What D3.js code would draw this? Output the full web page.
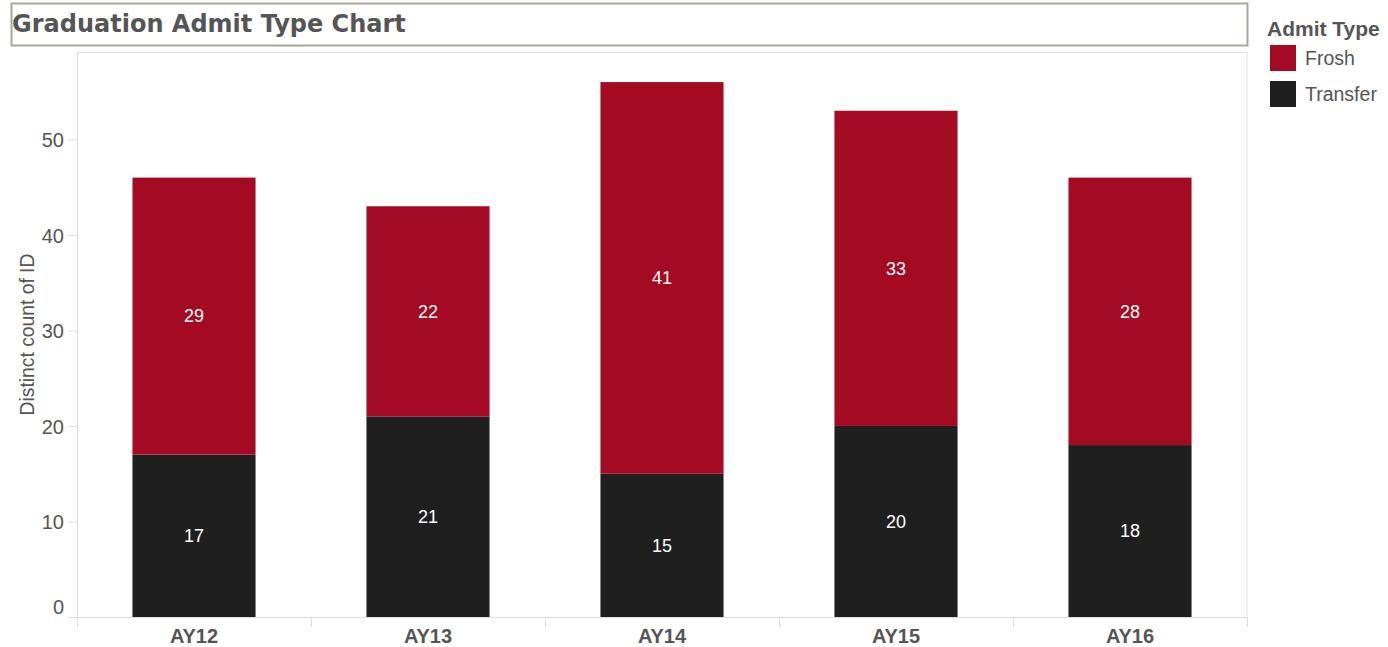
<!DOCTYPE html>
<html>
<head>
<meta charset="utf-8">
<script src="https://cdn.jsdelivr.net/npm/d3@7"></script>
<style>
  body { margin: 0; background: #fff; }
  .axis text { font-family: "Liberation Sans", Arial, sans-serif; fill: #555; }
</style>
</head>
<body>
<div class="chart"></div>
<script>
var years = ["AY12", "AY13", "AY14", "AY15", "AY16"];
var transfer = [17, 21, 15, 20, 18];
var frosh = [29, 22, 41, 33, 28];
var yTicks = [0, 10, 20, 30, 40, 50];
var admitTypes = ["Frosh", "Transfer"];
var colors = ["#a50a23", "#1f1f1f"];

var svgWidth = 1388;
var svgHeight = 647;
var margin = { top: 52, right: 141, bottom: 30, left: 77 };
var width = svgWidth - margin.left - margin.right;
var height = svgHeight - margin.top - margin.bottom;

var svg = d3.select(".chart")
  .append("svg")
  .attr("width", svgWidth)
  .attr("height", svgHeight);

// title box
svg.append("rect")
  .attr("x", 11.5).attr("y", 3.5)
  .attr("width", 1236).attr("height", 42)
  .attr("fill", "none")
  .attr("stroke", "#a8a898")
  .attr("stroke-width", 2);

svg.append("text")
  .attr("x", 12).attr("y", 32)
  .style("font-family", "'DejaVu Sans', sans-serif")
  .style("font-weight", "bold")
  .style("font-size", "24px")
  .style("fill", "#555")
  .text("Graduation Admit Type Chart");

var chart = svg.append("g")
  .attr("transform", "translate(" + margin.left + "," + margin.top + ")");

var x = d3.scaleBand().domain(years).range([0, width]).padding(0);
var y = d3.scaleLinear().domain([0, 59.15]).range([height, 0]);
var barW = x.bandwidth() * 0.526;

// frame
chart.append("rect")
  .attr("x", 0.5).attr("y", 0.5)
  .attr("width", width - 0.5).attr("height", height)
  .attr("fill", "none")
  .attr("stroke", "#ddd");

var rows = years.map(function(d, i) {
  return { year: d, Transfer: transfer[i], Frosh: frosh[i] };
});
var stack = d3.stack().keys(["Transfer", "Frosh"]);
var series = stack(rows);

var layers = chart.selectAll(".layer")
  .data(series)
  .enter().append("g")
  .attr("class", "layer")
  .attr("fill", function(d) { return colors[admitTypes.indexOf(d.key)]; });

layers.selectAll("rect")
  .data(function(d) { return d; })
  .enter().append("rect")
  .attr("x", function(d) { return x(d.data.year) + (x.bandwidth() - barW) / 2; })
  .attr("y", function(d) { return y(d[1]); })
  .attr("width", barW)
  .attr("height", function(d) { return y(d[0]) - y(d[1]); });

layers.selectAll("text")
  .data(function(d) { return d; })
  .enter().append("text")
  .attr("x", function(d) { return x(d.data.year) + x.bandwidth() / 2; })
  .attr("y", function(d) { return y((d[0] + d[1]) / 2); })
  .attr("dy", "0.35em")
  .attr("text-anchor", "middle")
  .style("font-family", "'Liberation Sans', Arial, sans-serif")
  .style("font-size", "18px")
  .style("fill", "#fff")
  .text(function(d) { return d[1] - d[0]; });

// y axis
var leftAxis = d3.axisLeft(y).tickValues(yTicks).tickSize(9).tickPadding(4);
var gy = chart.append("g").attr("class", "axis").call(leftAxis);
gy.select(".domain").remove();
gy.selectAll("line").attr("stroke", "#ddd");
gy.selectAll("text")
  .style("font-size", "20px")
  .attr("dy", function(d) { return d === 0 ? "-0.2em" : "0.37em"; });

// x axis
var bottomAxis = d3.axisBottom(x).tickSize(0).tickPadding(11);
var gx = chart.append("g").attr("class", "axis")
  .attr("transform", "translate(0," + height + ")")
  .call(bottomAxis);
gx.select(".domain").attr("stroke", "#ddd");
gx.selectAll("text").style("font-size", "20px").style("font-weight", "bold")
  .attr("dy", "0.77em");

// boundary ticks between categories
var bounds = years.map(function(d) { return x(d); }).concat([width]);
gx.selectAll(".sep")
  .data(bounds)
  .enter().append("line")
  .attr("class", "sep")
  .attr("x1", function(d) { return Math.round(d) + 0.5; })
  .attr("x2", function(d) { return Math.round(d) + 0.5; })
  .attr("y1", 0).attr("y2", 10)
  .attr("stroke", "#ddd");

// y axis label
chart.append("text")
  .attr("transform", "rotate(-90)")
  .attr("x", -height / 2)
  .attr("y", -43)
  .attr("text-anchor", "middle")
  .style("font-family", "'Liberation Sans', Arial, sans-serif")
  .style("font-size", "19.3px")
  .style("fill", "#555")
  .text("Distinct count of ID");

// legend
var legend = svg.append("g").attr("transform", "translate(1267,0)");
legend.append("text")
  .attr("x", 0).attr("y", 36)
  .style("font-family", "'Liberation Sans', Arial, sans-serif")
  .style("font-weight", "bold")
  .style("font-size", "21px")
  .style("fill", "#555")
  .text("Admit Type");

var items = legend.selectAll(".item")
  .data(admitTypes)
  .enter().append("g")
  .attr("class", "item")
  .attr("transform", function(d, i) { return "translate(3," + (45 + i * 36) + ")"; });

items.append("rect")
  .attr("width", 26).attr("height", 26)
  .attr("fill", function(d, i) { return colors[i]; });

items.append("text")
  .attr("x", 35).attr("y", 20)
  .style("font-family", "'Liberation Sans', Arial, sans-serif")
  .style("font-size", "19.5px")
  .style("fill", "#555")
  .text(function(d) { return d; });
</script>
</body>
</html>
